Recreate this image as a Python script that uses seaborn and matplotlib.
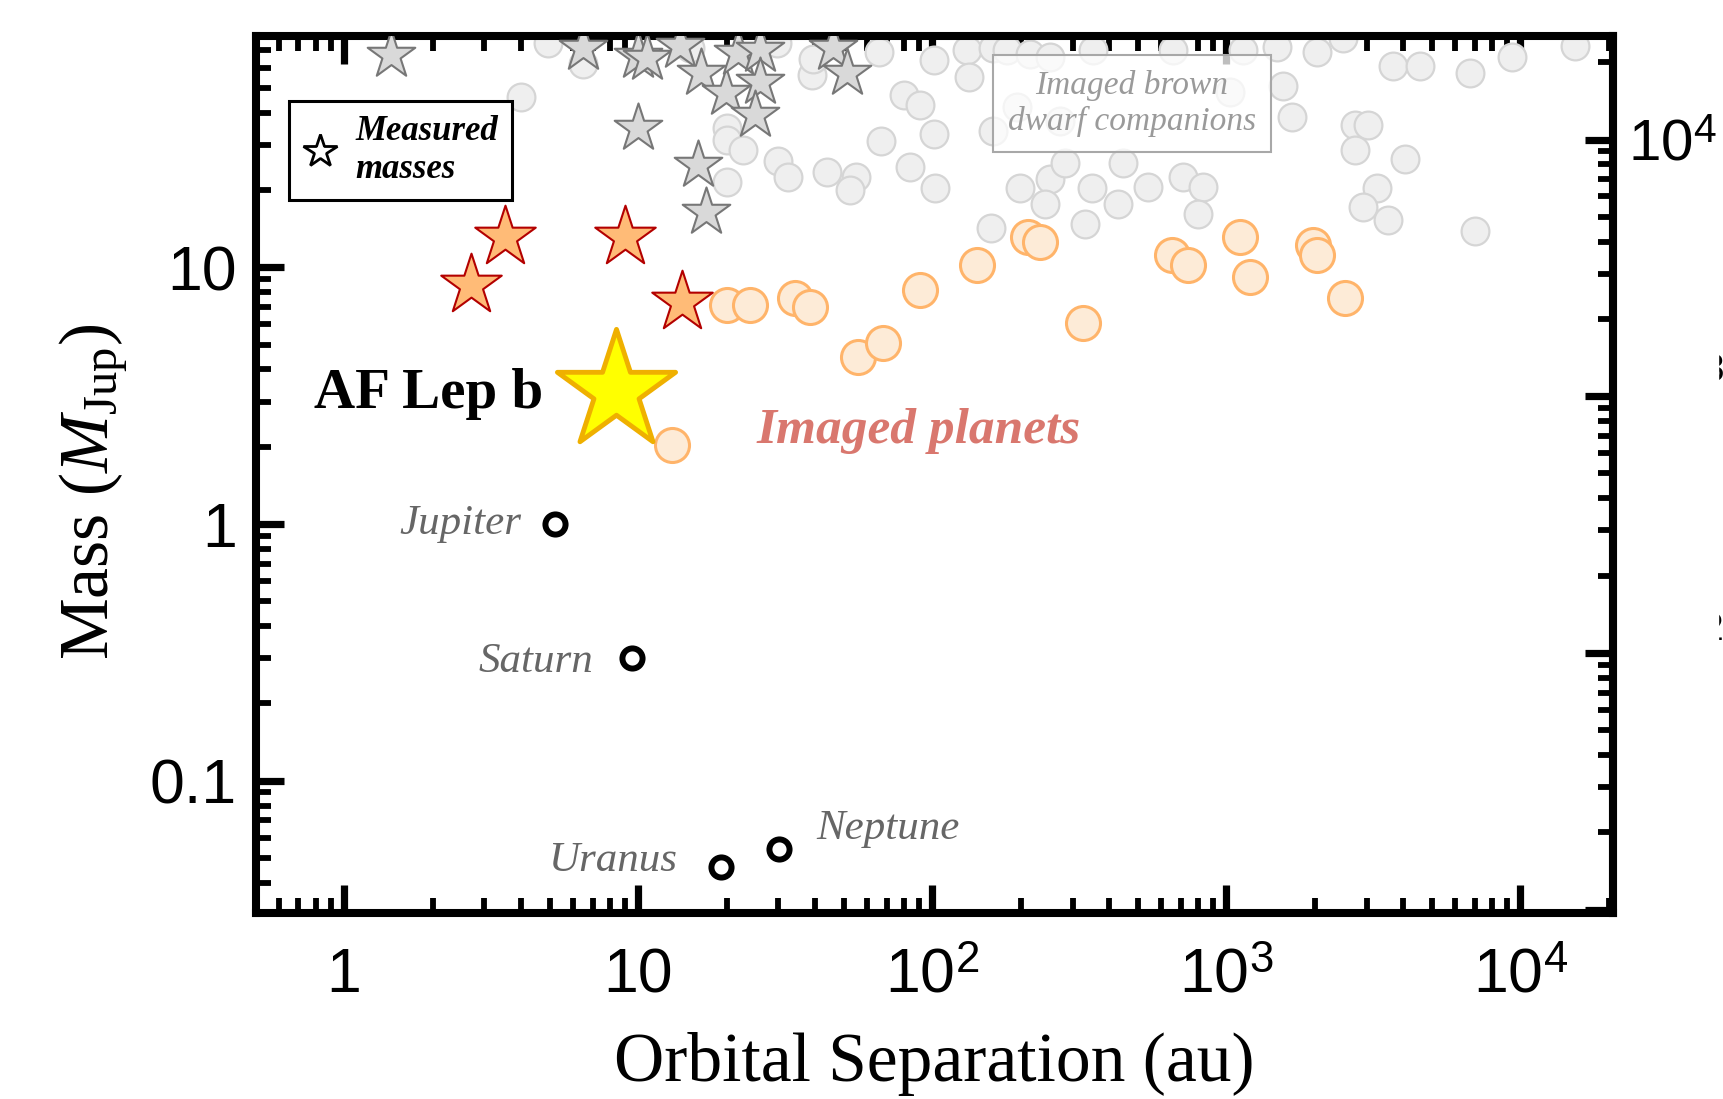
import numpy as np
import matplotlib
matplotlib.use("Agg")
import matplotlib.pyplot as plt
import seaborn as sns
from matplotlib.lines import Line2D
from matplotlib.patches import Rectangle
from matplotlib.ticker import FixedLocator, FixedFormatter, LogLocator, NullFormatter

# %% data: orbital separation (au), mass (M_Jup)
# imaged brown dwarf companions (grey circles)
bd_sep = [4.95, 6.5, 4.0, 20, 20, 22.7, 20, 15, 29.6, 38.9, 39.3, 66, 101, 131, 133,
          161, 179, 215, 251, 352, 658, 80, 91, 67, 101, 30, 32.4, 44, 55, 52.5,
          84, 102, 194, 161, 199, 251, 283, 242, 348, 429, 542, 446, 713, 835, 802,
          159, 330, 1141, 1483, 2028, 2497, 1561, 1667, 3694, 4552, 6733, 9333,
          15320, 2737, 3038, 2737, 4048, 3244, 2921, 3553, 7000, 1028, 272]
bd_mass = [74.5, 62, 46, 35, 31.3, 28.6, 21.5, 71.5, 74.5, 56, 65, 69, 64, 70, 55,
           71.5, 70, 68, 66, 70, 70, 47, 43, 31, 33, 26, 22.5, 23.6, 22.5, 20,
           24.6, 20.3, 42, 34, 20.3, 22, 25.4, 17.7, 20.3, 17.7, 20.6, 25.4, 22.5, 20.6, 16.2,
           14.2, 14.8, 70, 72, 69, 78, 51, 38.5, 61, 61, 57, 66,
           73, 36, 36, 28.6, 26.5, 20.3, 17.2, 15.3, 13.8, 48, 37]

# brown dwarfs with measured (dynamical) masses (grey stars)
bd_star_sep = [1.45, 6.5, 10.0, 10.7, 13.9, 16.4, 19.9, 21.8, 25.9, 25.9, 24.9, 46, 51.3, 10.0, 16.0, 17.0]
bd_star_mass = [67, 71.5, 66.5, 65.3, 72.8, 57.1, 47.7, 68.2, 70.2, 52.7, 39.2, 71.5, 57.1, 34.8, 25, 16.4]

# imaged planets (orange circles)
pl_sep = [20.0, 24.0, 34.1, 38.4, 56.0, 68.1, 90.8, 141.6, 212, 232, 325, 13.0,
          652, 742, 1112, 1203, 1975, 2028, 2530]
pl_mass = [7.12, 7.12, 7.56, 7.02, 4.48, 5.05, 8.15, 10.2, 13.1, 12.6, 6.05, 2.03,
           11.2, 10.2, 13.1, 9.13, 12.2, 11.2, 7.56]

# imaged planets with measured masses (orange stars)
pl_star_sep = [3.52, 2.70, 9.02, 14.06]
pl_star_mass = [13.1, 8.53, 13.1, 7.34]

# AF Lep b
aflep_sep = [8.38]
aflep_mass = [3.3]

# solar system giants
ss_names = ["Jupiter", "Saturn", "Uranus", "Neptune"]
ss_sep = [5.2, 9.5, 19.2, 30.1]
ss_mass = [1.0, 0.30, 0.046, 0.054]

x_ticks = [1, 10, 100, 1000, 10000]
x_ticklabels = ["1", "10", r"10$^{\mathsf{2}}$", r"10$^{\mathsf{3}}$", r"10$^{\mathsf{4}}$"]
y_ticks = [0.1, 1, 10]
y_ticklabels = ["0.1", "1", "10"]
earth_ticks = [10, 100, 1000, 10000]
earth_ticklabels = ["", "", "", r"10$^{\mathsf{4}}$"]
MJUP_IN_MEARTH = 317.8

# %% style
sns.set_style("ticks")
plt.rcParams["font.family"] = ["Liberation Sans", "DejaVu Sans"]
plt.rcParams["mathtext.fontset"] = "custom"
plt.rcParams["mathtext.rm"] = "Liberation Serif"
plt.rcParams["mathtext.it"] = "Liberation Serif:italic"
plt.rcParams["mathtext.sf"] = "Liberation Sans"
for key in ["text.color", "axes.labelcolor", "xtick.color", "ytick.color", "axes.edgecolor"]:
    plt.rcParams[key] = "black"
SERIF = "Liberation Serif"

fig = plt.figure(figsize=(17.24, 10.99), dpi=100)
ax = fig.add_axes([0.1485, 0.1692, 0.7871, 0.7980])
ax.set_xscale("log")
ax.set_yscale("log")

sns.scatterplot(x=bd_sep, y=bd_mass, ax=ax, marker="o", s=400, color="#efefef",
                edgecolor="#d5d5d5", linewidth=1.6, zorder=2)
sns.scatterplot(x=bd_star_sep, y=bd_star_mass, ax=ax, marker="*", s=1300, color="#d9d9d9",
                edgecolor="#777777", linewidth=1.5, zorder=3)
sns.scatterplot(x=pl_sep, y=pl_mass, ax=ax, marker="o", s=600, color="#fdebd7",
                edgecolor="#ffb46a", linewidth=2.2, zorder=4)
sns.scatterplot(x=pl_star_sep, y=pl_star_mass, ax=ax, marker="*", s=2100, color="#ffbb77",
                edgecolor="#b30000", linewidth=1.5, zorder=5)
sns.scatterplot(x=aflep_sep, y=aflep_mass, ax=ax, marker="*", s=8000, color="#ffff00",
                edgecolor="#efb000", linewidth=3.5, zorder=6)
sns.scatterplot(x=ss_sep, y=ss_mass, ax=ax, marker="o", s=210, color="white",
                edgecolor="black", linewidth=4.3, zorder=6)

ax.set_xlim(0.502, 20630)
ax.set_ylim(0.0305, 79.6)

# %% ticks and spines
ax.xaxis.set_major_locator(FixedLocator(x_ticks))
ax.xaxis.set_major_formatter(FixedFormatter(x_ticklabels))
ax.xaxis.set_minor_locator(LogLocator(base=10, subs=np.arange(2, 10)))
ax.xaxis.set_minor_formatter(NullFormatter())
ax.yaxis.set_major_locator(FixedLocator(y_ticks))
ax.yaxis.set_major_formatter(FixedFormatter(y_ticklabels))
ax.yaxis.set_minor_locator(LogLocator(base=10, subs=np.arange(2, 10)))
ax.yaxis.set_minor_formatter(NullFormatter())

ax.tick_params(which="major", direction="in", length=20, width=5.2, labelsize=45,
               top=True, right=False, color="black", labelcolor="black")
ax.tick_params(which="minor", direction="in", length=11, width=4.2,
               top=True, right=False, color="black")
ax.tick_params(axis="x", which="major", pad=24)
ax.tick_params(axis="y", which="major", pad=14)
for sp in ax.spines.values():
    sp.set_linewidth(5.8)
    sp.set_color("black")

secax = ax.secondary_yaxis("right", functions=(lambda m: m * MJUP_IN_MEARTH,
                                               lambda e: e / MJUP_IN_MEARTH))
secax.yaxis.set_major_locator(FixedLocator(earth_ticks))
secax.yaxis.set_major_formatter(FixedFormatter(earth_ticklabels))
secax.yaxis.set_minor_locator(LogLocator(base=10, subs=np.arange(2, 10)))
secax.yaxis.set_minor_formatter(NullFormatter())
secax.tick_params(which="major", direction="in", length=20, width=5.2, labelsize=42,
                  pad=11, color="black", labelcolor="black")
secax.tick_params(which="minor", direction="in", length=11, width=4.2, color="black")
secax.spines["right"].set_linewidth(5.8)
secax.spines["right"].set_color("black")

# %% labels
ax.set_xlabel("Orbital Separation (au)", fontsize=50, family=SERIF, color="black")
ax.xaxis.set_label_coords(0.5, -0.136)
ax.set_ylabel(r"Mass ($M_{\mathrm{Jup}}$)", fontsize=50, family=SERIF, color="black")
ax.yaxis.set_label_coords(-0.093, 0.48)

# %% annotations
ax.text(4.75, 3.2, "AF Lep b", ha="right", va="center", fontsize=41,
        family=SERIF, weight="bold", color="black", zorder=7)
ax.text(90, 2.3, "Imaged planets", ha="center", va="center", fontsize=37,
        family=SERIF, weight="bold", style="italic", color="#d9776e", zorder=7)
ax.text(477, 43.6, "Imaged brown\ndwarf companions", ha="center", va="center",
        multialignment="center", fontsize=24, family=SERIF, style="italic",
        color="#9a9a9a", linespacing=1.2, zorder=7,
        bbox=dict(boxstyle="square,pad=0.45", fc=(1, 1, 1, 0.75), ec="#a8a8a8", lw=1.5))

name_pos = {"Jupiter": (4.0, 1.0, "right"), "Saturn": (7.05, 0.29, "right"),
            "Uranus": (13.6, 0.0486, "right"), "Neptune": (40.5, 0.0648, "left")}
for name in ss_names:
    tx, ty, ha = name_pos[name]
    ax.text(tx, ty, name, ha=ha, va="center", fontsize=31, family=SERIF,
            style="italic", color="#666666", zorder=7)

handle = Line2D([], [], marker="*", ls="none", mfc="white", mec="black", mew=2, ms=25)
leg = ax.legend([handle], ["Measured\nmasses"], loc="upper left",
                bbox_to_anchor=(0.0243, 0.9259), borderaxespad=0, frameon=True,
                fancybox=False, edgecolor="black", framealpha=1,
                prop={"family": SERIF, "weight": "bold", "style": "italic", "size": 25},
                handlelength=1.0, handletextpad=0.5, borderpad=0.4, labelspacing=0)
leg.get_frame().set_linewidth(2.2)
leg.set_zorder(8)

# slivers of the cropped right-hand tick labels
for ty, digit in [(0.6624, "3"), (0.4268, "2")]:
    fig.text(1.0, ty, digit, ha="right", va="center", fontsize=28, color="black")
fig.patches.append(Rectangle((1680 / 1724, 0.3), 38 / 1724, 0.45,
                             transform=fig.transFigure, color="white", zorder=10))

plt.savefig("out.png", dpi=100)
